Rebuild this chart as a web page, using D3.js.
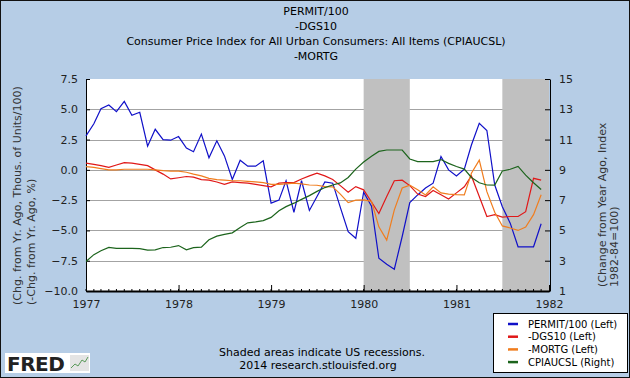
<!DOCTYPE html>
<html>
<head>
<meta charset="utf-8">
<script src="https://cdn.jsdelivr.net/npm/d3@7"></script>
<style>
  body { margin: 0; background: #fff; }
  svg { display: block; font-family: "DejaVu Sans", Verdana, sans-serif; }
</style>
</head>
<body>
<div id="chart"></div>
<script>
// chart data, monthly Jan 1977 .. Dec 1981
const titleLines = ["PERMIT/100", "-DGS10",
  "Consumer Price Index for All Urban Consumers: All Items (CPIAUCSL)", "-MORTG"];
const startMonth = new Date(1977, 0, 1);
const endMonth = new Date(1982, 0, 1);
const months = d3.timeMonth.range(startMonth, endMonth);

const permit = [2.8, 3.8, 5.05, 5.35, 4.8, 5.65, 4.5, 4.75, 1.95, 3.35, 2.5, 2.45,
  2.75, 1.8, 1.5, 2.95, 1.0, 2.4, 1.15, -0.8, 0.8, 0.3, 0.3, 0.75,
  -2.75, -2.5, -0.9, -3.5, -0.9, -3.35, -2.2, -1.0, -1.1, -3.1, -5.1, -5.65,
  -1.85, -3.0, -7.3, -7.8, -8.2, -5.5, -2.7, -2.07, -1.5, -1.1, 1.1, 0.0,
  -0.5, 0.05, 2.05, 3.85, 3.25, -1.25, -3.05, -4.4, -6.35, -6.35, -6.35, -4.45];
const dgs10 = [0.55, 0.45, 0.35, 0.2, 0.4, 0.6, 0.55, 0.45, 0.35, 0.0, -0.35, -0.75,
  -0.65, -0.55, -0.6, -0.8, -0.85, -1.0, -1.2, -1.0, -1.05, -1.1, -1.2, -1.3,
  -1.4, -1.1, -1.05, -1.05, -0.75, -0.5, -0.28, -0.5, -0.8, -1.3, -1.85, -1.38,
  -1.65, -2.65, -3.6, -2.2, -0.9, -0.85, -1.3, -2.0, -2.2, -1.7, -2.05, -2.4,
  -1.9, -1.4, -0.5, -2.2, -3.85, -3.7, -3.9, -3.85, -3.85, -3.45, -0.7, -0.85];
const mortg = [0.27, 0.2, 0.1, 0.0, 0.0, 0.05, 0.05, 0.05, 0.05, 0.0, -0.07, -0.1,
  -0.1, -0.2, -0.35, -0.5, -0.7, -0.8, -0.85, -0.9, -0.9, -0.95, -1.0, -1.05,
  -1.2, -1.2, -1.15, -1.1, -1.15, -1.25, -1.27, -1.38, -1.4, -2.0, -2.7, -2.5,
  -2.48, -2.6, -4.7, -5.8, -3.3, -1.5, -1.27, -1.65, -2.07, -1.4, -1.9, -2.0,
  -2.05, -2.07, -0.28, 0.8, -1.8, -3.5, -4.63, -4.8, -5.0, -4.72, -3.7, -2.05];
const cpi = [2.95, 3.4, 3.66, 3.88, 3.82, 3.82, 3.82, 3.8, 3.7, 3.72, 3.87, 3.89,
  4.0, 3.72, 3.86, 3.9, 4.38, 4.62, 4.74, 4.84, 5.2, 5.5, 5.56, 5.65,
  5.86, 6.3, 6.57, 6.8, 7.05, 7.3, 7.58, 7.83, 8.0, 8.14, 8.5, 9.05,
  9.52, 9.9, 10.22, 10.31, 10.31, 10.31, 9.72, 9.54, 9.54, 9.55, 9.68, 9.43,
  9.22, 9.05, 8.5, 8.15, 8.0, 7.99, 8.93, 9.04, 9.23, 8.65, 8.15, 7.7];

const recessions = [["1980-01-01", "1980-07-01"], ["1981-07-01", "1982-11-01"]];
const leftTicks = [-10, -7.5, -5, -2.5, 0, 2.5, 5, 7.5];
const rightTicks = [1, 3, 5, 7, 9, 11, 13, 15];
const yearTicks = [1977, 1978, 1979, 1980, 1981, 1982];

const series = [
  { name: "PERMIT/100 (Left)", values: permit, color: "#1010c8", axis: "left" },
  { name: "-DGS10 (Left)", values: dgs10, color: "#e01818", axis: "left" },
  { name: "-MORTG (Left)", values: mortg, color: "#f07d1e", axis: "left" },
  { name: "CPIAUCSL (Right)", values: cpi, color: "#1c641c", axis: "right" }
];

const W = 630, H = 378;
const plot = { left: 86, right: 549, top: 79, bottom: 291 };

const svg = d3.select("#chart").append("svg")
  .attr("width", W).attr("height", H);

// background + frame
svg.append("rect").attr("x", 0.5).attr("y", 0.5)
  .attr("width", W - 1).attr("height", H - 1)
  .attr("fill", "#b6cde6").attr("stroke", "#111");

// titles
svg.append("g").selectAll("text").data(titleLines).join("text")
  .attr("x", 316).attr("y", (d, i) => 15 + i * 15)
  .attr("text-anchor", "middle")
  .style("font-size", "11px").attr("fill", "#000")
  .text(d => d);

const x = d3.scaleTime().domain([startMonth, endMonth]).range([plot.left, plot.right]);
const yL = d3.scaleLinear().domain([-10, 7.5]).range([plot.bottom, plot.top]);
const yR = d3.scaleLinear().domain([1, 15]).range([plot.bottom, plot.top]);

// plot area
svg.append("rect")
  .attr("x", plot.left).attr("y", plot.top)
  .attr("width", plot.right - plot.left).attr("height", plot.bottom - plot.top)
  .attr("fill", "#fff");

// gridlines
svg.append("g").selectAll("line")
  .data(leftTicks.filter(d => d > -10 && d < 7.5)).join("line")
  .attr("x1", plot.left).attr("x2", plot.right)
  .attr("y1", d => Math.round(yL(d)) + 0.5).attr("y2", d => Math.round(yL(d)) + 0.5)
  .attr("stroke", "#a3a3a3").attr("stroke-width", 1);

// recession shading
svg.append("g").selectAll("rect").data(recessions).join("rect")
  .attr("x", d => x(new Date(d[0])))
  .attr("y", plot.top)
  .attr("width", d => Math.min(x(new Date(d[1])), plot.right) - x(new Date(d[0])))
  .attr("height", plot.bottom - plot.top)
  .attr("fill", "#c0c0c0");

// axes
const axisStyle = g => {
  g.select(".domain").attr("stroke", "#000");
  g.selectAll(".tick line").attr("stroke", "#000");
  g.selectAll(".tick text").attr("fill", "#222")
    .style("font-size", "11px").style("font-family", "DejaVu Sans, Verdana, sans-serif");
};

svg.append("g")
  .attr("transform", `translate(${plot.left},0)`)
  .call(d3.axisLeft(yL).tickValues(leftTicks).tickFormat(d3.format(".1f"))
    .tickSize(-4).tickSizeOuter(0).tickPadding(8))
  .call(axisStyle);

svg.append("g")
  .attr("transform", `translate(${plot.right + 1},0)`)
  .call(d3.axisRight(yR).tickValues(rightTicks)
    .tickSize(-5).tickSizeOuter(0).tickPadding(9))
  .call(axisStyle);

const xAxis = svg.append("g")
  .attr("transform", `translate(0,${plot.bottom})`)
  .call(d3.axisBottom(x).tickValues(yearTicks.map(d => new Date(d, 0, 1)))
    .tickFormat(d3.timeFormat("%Y")).tickSize(-6).tickSizeOuter(0).tickPadding(9))
  .call(axisStyle);
xAxis.select(".domain").attr("stroke-width", 2);

// month minor ticks
svg.append("g").selectAll("line").data(months).join("line")
  .attr("x1", d => x(d)).attr("x2", d => x(d))
  .attr("y1", plot.bottom).attr("y2", plot.bottom - 2)
  .attr("stroke", "#000");

// series lines
series.forEach(s => {
  const y = s.axis === "left" ? yL : yR;
  const line = d3.line()
    .x((d, i) => x(months[i]))
    .y(d => y(d));
  svg.append("path")
    .datum(s.values)
    .attr("fill", "none")
    .attr("stroke", s.color)
    .attr("stroke-width", 1.2)
    .attr("d", line);
});

// axis titles
const leftTitle = svg.append("g").attr("fill", "#333").style("font-size", "11px");
leftTitle.append("text")
  .attr("transform", "translate(21,305) rotate(-90)")
  .text("(Chg. from Yr. Ago, Thous. of Units/100)");
leftTitle.append("text")
  .attr("transform", "translate(35,305) rotate(-90)")
  .text("(-Chg. from Yr. Ago, %)");

const rightTitle = svg.append("g").attr("fill", "#333").style("font-size", "11px");
rightTitle.append("text")
  .attr("transform", "translate(606,287) rotate(-90)")
  .text("(Change from Year Ago, Index");
rightTitle.append("text")
  .attr("transform", "translate(618,287) rotate(-90)")
  .text("1982-84=100)");

// legend
const legend = svg.append("g").attr("transform", "translate(493,313)");
legend.append("rect")
  .attr("x", 0.5).attr("y", 0.5).attr("width", 134).attr("height", 59)
  .attr("fill", "#fff").attr("stroke", "#000");
const rows = legend.selectAll("g.row").data(series).join("g")
  .attr("class", "row")
  .attr("transform", (d, i) => `translate(0,${11 + i * 12.7})`);
rows.append("line")
  .attr("x1", 15).attr("x2", 25).attr("y1", 0).attr("y2", 0)
  .attr("stroke", d => d.color).attr("stroke-width", 2.5);
rows.append("text")
  .attr("x", 35).attr("y", 3.5)
  .style("font-size", "10px").attr("fill", "#000")
  .text(d => d.name);

// footer
const foot = svg.append("g").attr("text-anchor", "middle")
  .style("font-size", "11px").attr("fill", "#000");
foot.append("text").attr("x", 322).attr("y", 356).text("Shaded areas indicate US recessions.");
foot.append("text").attr("x", 318).attr("y", 369).text("2014 research.stlouisfed.org");

// FRED logo
const logo = svg.append("g").attr("transform", "translate(5,353)");
logo.append("rect").attr("width", 85).attr("height", 20).attr("fill", "#fff");
logo.append("text").attr("x", 2).attr("y", 18)
  .style("font-size", "20px").style("font-weight", "bold")
  .attr("letter-spacing", "-0.5").attr("fill", "#222").text("FRED");
logo.append("rect").attr("x", 65).attr("y", 2).attr("width", 19).attr("height", 16)
  .attr("fill", "#e4e4e4");
logo.append("path").attr("d", "M66,15 L70,11 L73,13 L77,7 L80,9 L83,4")
  .attr("fill", "none").attr("stroke", "#5a9a5a").attr("stroke-width", 1);
</script>
</body>
</html>
